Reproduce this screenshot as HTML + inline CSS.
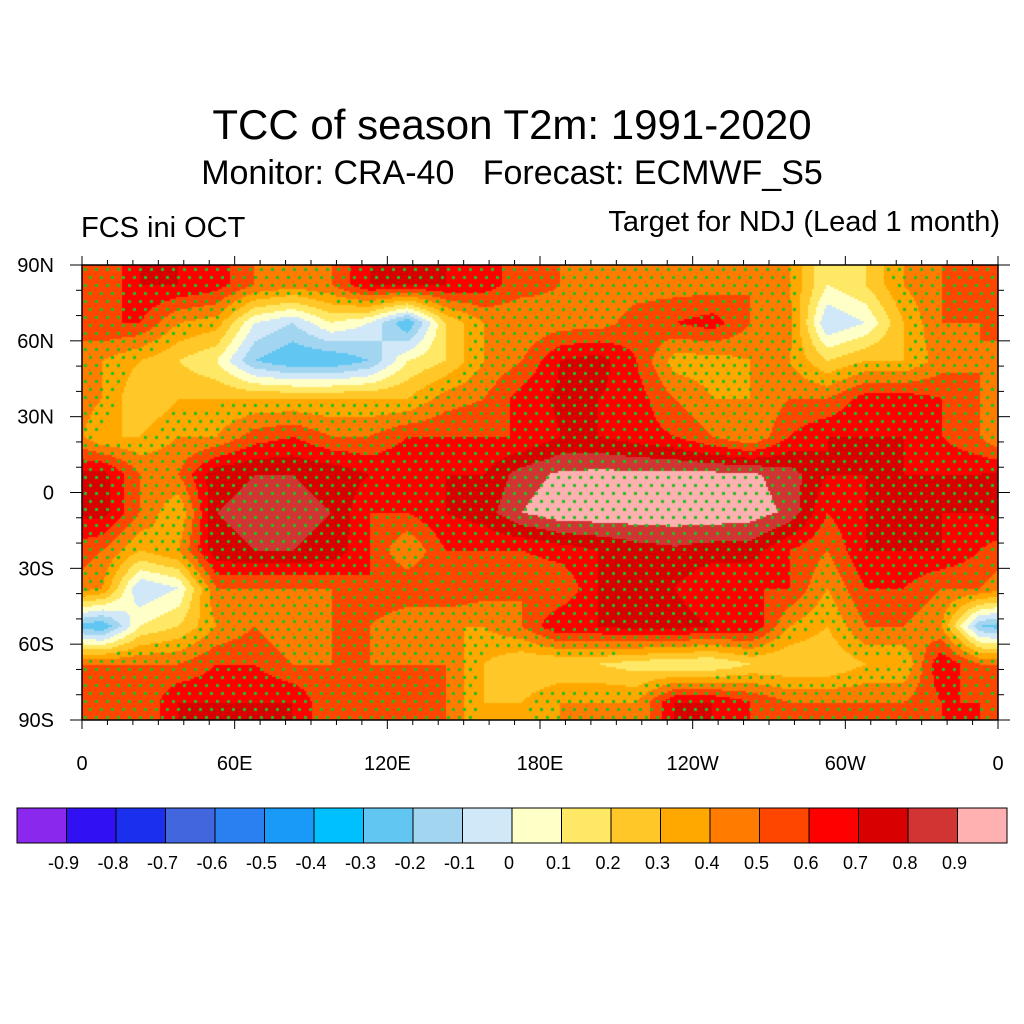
<!DOCTYPE html>
<html><head><meta charset="utf-8"><style>
body{margin:0;background:#fff;font-family:"Liberation Sans",sans-serif}
#wrap{position:relative;width:1024px;height:1024px}
.t{position:absolute;white-space:nowrap;color:#000}
</style></head><body>
<div id="wrap">
<div class="t" style="left:0;width:1024px;text-align:center;top:101px;font-size:42px">TCC of season T2m: 1991-2020</div>
<div class="t" style="left:0;width:1024px;text-align:center;top:154px;font-size:34px">Monitor: CRA-40&nbsp;&nbsp; Forecast: ECMWF_S5</div>
<div class="t" style="left:81px;top:212px;font-size:29px">FCS ini OCT</div>
<div class="t" style="right:24px;top:206px;font-size:29px">Target for NDJ (Lead 1 month)</div>
<canvas id="map" width="916" height="455" style="position:absolute;left:82px;top:265px"></canvas>
<svg id="ax" width="1024" height="1024" style="position:absolute;left:0;top:0"></svg>
</div>
<script>
const levels=[-0.9,-0.8,-0.7,-0.6,-0.5,-0.4,-0.3,-0.2,-0.1,0,0.1,0.2,0.3,0.4,0.5,0.6,0.7,0.8,0.9];
const colors=["#8a28ee","#3210f4","#1a30ee","#4266de","#2a80f0","#1a9af8","#00c0ff","#62c6f2","#a2d6f0","#d0e8f8","#ffffc8","#ffe866","#ffc828","#ffa800","#ff7c00","#ff4600","#ff0000","#d80000","#d23434","#ffb0b0"];
const lats=[82.5,67.5,52.5,37.5,22.5,7.5,-7.5,-22.5,-37.5,-52.5,-67.5,-82.5];
const lons=[7.5,22.5,37.5,52.5,67.5,82.5,97.5,112.5,127.5,142.5,157.5,172.5,187.5,202.5,217.5,232.5,247.5,262.5,277.5,292.5,307.5,322.5,337.5,352.5];
const r0=[0.5,0.7,0.7,0.65,0.5,0.45,0.5,0.7,0.7,0.7,0.65,0.55,0.5,0.45,0.45,0.45,0.45,0.5,0.4,0.1,0.2,0.4,0.5,0.5];
const r1=[0.6,0.6,0.4,0.35,0.0,-0.1,0.1,0.0,-0.3,0.2,0.4,0.4,0.45,0.45,0.55,0.6,0.65,0.5,0.45,-0.1,0.0,0.3,0.5,0.5];
const r2=[0.4,0.3,0.2,0.1,-0.2,-0.3,-0.3,-0.2,0.1,0.2,0.4,0.5,0.7,0.75,0.6,0.35,0.35,0.4,0.4,0.2,0.3,0.3,0.45,0.5];
const r3=[0.4,0.2,0.3,0.3,0.3,0.3,0.3,0.3,0.3,0.45,0.5,0.65,0.72,0.7,0.65,0.5,0.4,0.4,0.5,0.5,0.65,0.65,0.6,0.5];
const r4=[0.3,0.3,0.4,0.4,0.55,0.6,0.5,0.5,0.6,0.6,0.6,0.6,0.7,0.7,0.65,0.6,0.5,0.4,0.6,0.7,0.7,0.7,0.6,0.5];
const r5=[0.75,0.5,0.5,0.78,0.8,0.8,0.78,0.7,0.7,0.7,0.7,0.85,0.92,0.93,0.93,0.93,0.93,0.92,0.85,0.7,0.7,0.7,0.7,0.7];
const r6=[0.75,0.5,0.3,0.8,0.82,0.82,0.8,0.6,0.6,0.7,0.75,0.9,0.97,0.97,0.97,0.97,0.97,0.95,0.88,0.6,0.7,0.7,0.7,0.7];
const r7=[0.5,0.3,0.4,0.78,0.8,0.8,0.78,0.6,0.4,0.6,0.6,0.6,0.65,0.7,0.75,0.78,0.75,0.75,0.6,0.5,0.7,0.7,0.7,0.6];
const r8=[0.4,-0.1,0.0,0.5,0.5,0.5,0.5,0.6,0.6,0.6,0.55,0.5,0.5,0.7,0.7,0.7,0.6,0.6,0.6,0.4,0.6,0.6,0.5,0.5];
const r9=[-0.3,0.1,0.2,0.4,0.5,0.4,0.5,0.5,0.4,0.4,0.4,0.5,0.7,0.7,0.75,0.75,0.7,0.7,0.4,0.3,0.5,0.5,0.4,-0.2];
const r10=[0.5,0.5,0.5,0.6,0.6,0.5,0.5,0.5,0.5,0.5,0.3,0.2,0.2,0.2,0.15,0.1,0.1,0.2,0.2,0.2,0.3,0.3,0.7,0.5];
const r11=[0.5,0.5,0.7,0.7,0.7,0.7,0.5,0.5,0.5,0.5,0.3,0.3,0.4,0.4,0.4,0.7,0.7,0.6,0.5,0.5,0.5,0.5,0.6,0.6];
const grid=[r0,r1,r2,r3,r4,r5,r6,r7,r8,r9,r10,r11];
const xTicks=["0","60E","120E","180E","120W","60W","0"];
const yTicks=["90N","60N","30N","0","30S","60S","90S"];
const W=916,H=455,X0=82,Y0=265;
const xs=lon=>X0+lon/360*W, ys=lat=>Y0+(90-lat)/180*H;
function val(lon,lat){
 let fi=(lon-7.5)/15, fj=(82.5-lat)/15;
 fj=Math.max(0,Math.min(11,fj));
 const j0=Math.floor(Math.min(fj,10.999)),ty=fj-j0;
 let i0=Math.floor(fi),tx=fi-i0;
 const a=((i0%24)+24)%24,b=(a+1)%24;
 const g=grid;
 const v0=g[j0][a]*(1-tx)+g[j0][b]*tx, v1=g[j0+1][a]*(1-tx)+g[j0+1][b]*tx;
 return v0*(1-ty)+v1*ty;
}
function col(v){let k=0;while(k<levels.length&&v>=levels[k])k++;return colors[k];}
const ctx=document.getElementById('map').getContext('2d');
for(let y=0;y<H;y+=2)for(let x=0;x<W;x+=2){
 const lon=x/W*360,lat=90-y/H*180;
 ctx.fillStyle=col(val(lon,lat));ctx.fillRect(x,y,2,2);
}
ctx.fillStyle="#22c022";
for(let r=0,y=4;y<H;y+=8,r++)for(let x=(r%2?5:0)+3;x<W;x+=11){
 const v=val(x/W*360,90-y/H*180);
 if(v>0.32){ctx.fillRect(x-1,y-1,3,3);}
}
const svg=document.getElementById('ax'),NS="http://www.w3.org/2000/svg";
function el(t,a,p){const e=document.createElementNS(NS,t);for(const k in a)e.setAttribute(k,a[k]);(p||svg).appendChild(e);return e;}
const fr=el('rect',{x:X0,y:Y0,width:W,height:H,fill:'none',stroke:'#000','stroke-width':1.5});


for(let i=0;i<=36;i++){const x=xs(i*10),L=i%6==0?9:5;
 el('line',{x1:x,x2:x,y1:Y0+H,y2:Y0+H+L,stroke:'#000'});el('line',{x1:x,x2:x,y1:Y0,y2:Y0-L,stroke:'#000'});}
for(let i=0;i<=18;i++){const y=ys(90-i*10),L=i%3==0?12:6;
 el('line',{x1:X0,x2:X0-L,y1:y,y2:y,stroke:'#000'});el('line',{x1:X0+W,x2:X0+W+L,y1:y,y2:y,stroke:'#000'});}
xTicks.forEach((s,i)=>{const t=el('text',{x:xs(i*60),y:770,'font-size':20,'text-anchor':'middle','font-family':'Liberation Sans'});t.textContent=s;
 
 });
yTicks.forEach((s,i)=>{const t=el('text',{x:54,y:ys(90-i*30)+7,'font-size':20,'text-anchor':'end','font-family':'Liberation Sans'});t.textContent=s;
 
 });
const bw=990/20;
colors.forEach((c,i)=>{const r=el('rect',{x:17+i*bw,y:808,width:bw,height:35,fill:c,stroke:'#000','stroke-width':1});
 
 });
levels.forEach((l,i)=>{const t=el('text',{x:14+(i+1)*bw,y:869,'font-size':18,'text-anchor':'middle','font-family':'Liberation Sans'});t.textContent=String(l);
 
 });
</script>
</body></html>
